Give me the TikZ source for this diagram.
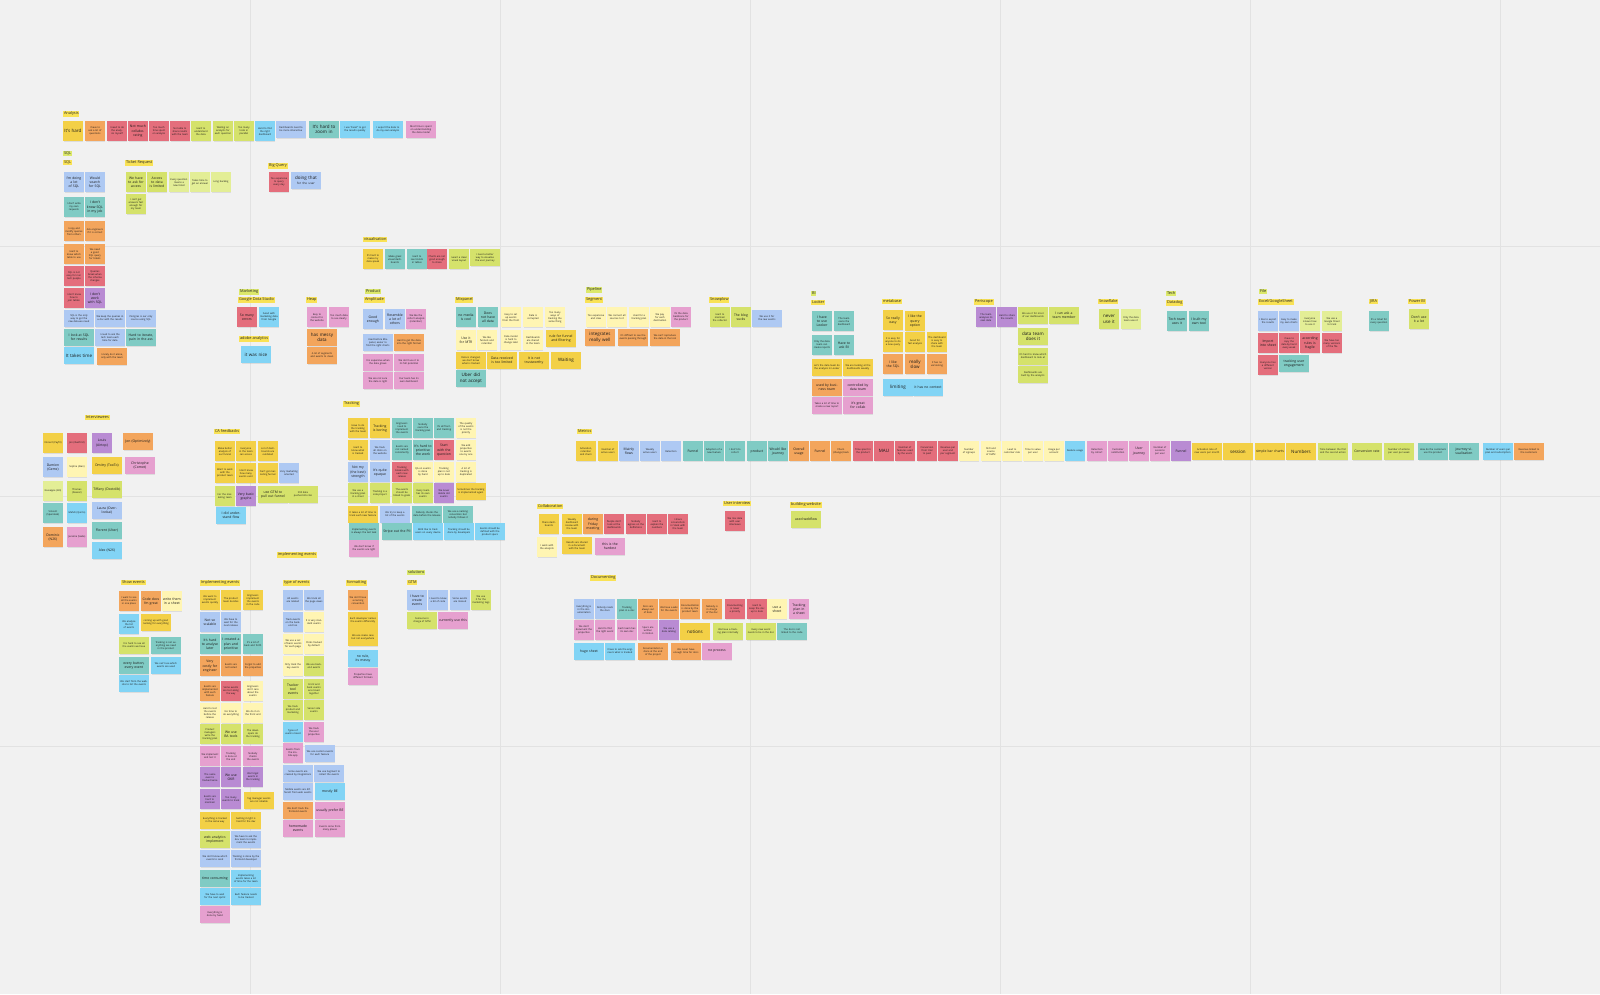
\documentclass[tikz,border=0pt]{standalone}
\usepackage{fontspec}
\setmainfont{Open Sans}
\usetikzlibrary{shadows}
\definecolor{bgc}{HTML}{F1F1F1}
\definecolor{gridc}{HTML}{E2E2E2}
\definecolor{cY}{HTML}{F3D046}
\definecolor{cO}{HTML}{F3A55C}
\definecolor{cR}{HTML}{E46E7C}
\definecolor{cL}{HTML}{D5E26B}
\definecolor{cB}{HTML}{AEC9F3}
\definecolor{cT}{HTML}{80CBC4}
\definecolor{cS}{HTML}{82D4F5}
\definecolor{cP}{HTML}{B98BD3}
\definecolor{cK}{HTML}{E6A0CF}
\definecolor{cPY}{HTML}{FFF5B3}
\definecolor{cPL}{HTML}{E3EE96}
\definecolor{labY}{HTML}{F9E255}
\definecolor{labG}{HTML}{DCE86B}
\newcounter{nn}
\tikzset{
 note/.style={anchor=north west, inner sep=0.5pt, align=center, text=black!90,
   drop shadow={shadow xshift=0.3pt, shadow yshift=-0.8pt, opacity=0.18}},
 sqn/.style={minimum width=19.5pt, minimum height=20pt, text width=17.5pt},
 wdn/.style={minimum width=29.5pt, minimum height=16.5pt, text width=28pt},
 tinyf/.style={font=\fontsize{2.45}{2.95}\selectfont},
 medf/.style={font=\fontsize{3.4}{4.1}\selectfont},
 bigf/.style={font=\fontsize{4.5}{5.3}\selectfont},
 lab/.style={anchor=north west, inner sep=0.8pt, font=\fontsize{3.9}{4.4}\selectfont, text=black!85}
}
\newcommand\nsq[4]{\stepcounter{nn}\node[note,sqn,tinyf,fill=#3] (n\arabic{nn}) at (#1,#2) {#4};}
\newcommand\nsqm[4]{\stepcounter{nn}\node[note,sqn,medf,fill=#3] (n\arabic{nn}) at (#1,#2) {#4};}
\newcommand\nsqb[4]{\stepcounter{nn}\node[note,sqn,bigf,fill=#3] (n\arabic{nn}) at (#1,#2) {#4};}
\newcommand\nwd[4]{\stepcounter{nn}\node[note,wdn,tinyf,fill=#3] (n\arabic{nn}) at (#1,#2) {#4};}
\newcommand\nwdm[4]{\stepcounter{nn}\node[note,wdn,medf,fill=#3] (n\arabic{nn}) at (#1,#2) {#4};}
\newcommand\nwdb[4]{\stepcounter{nn}\node[note,wdn,bigf,fill=#3] (n\arabic{nn}) at (#1,#2) {#4};}
\newcommand\lab[4]{\stepcounter{nn}\node[lab,fill=#3] (l\arabic{nn}) at (#1,#2) {#4};}
\begin{document}
\begin{tikzpicture}[x=1pt,y=-1pt]
\fill[bgc] (0,0) rectangle (1600,994);
\useasboundingbox (0,0) rectangle (1600,994);
\foreach \gx in {250,500,750,1000,1250,1500} \draw[gridc, line width=1pt] (\gx,0) -- (\gx,994);
\foreach \gy in {246,496,746} \draw[gridc, line width=1pt] (0,\gy) -- (1600,\gy);

% ---------------- Analysis
\lab{63}{111}{labY}{Analysis}
\nsqb{63}{121}{cY}{It's hard}
\nsq{85}{121}{cO}{I have to ask a lot of questions}
\nsq{107}{121}{cR}{I need to do the analysis myself}
\nsqm{128}{121}{cR}{Not much collabo\-rating}
\nsq{149}{121}{cR}{Too much time spent on analysis}
\nsq{170}{121}{cR}{Not able to share results with the team}
\nsq{191}{121}{cL}{Hard to understand the data}
\nsq{213}{121}{cL}{Waiting on analysts for each question}
\nsq{234}{121}{cL}{Too many tools in parallel}
\nsq{255}{121}{cS}{Hard to find the right dashboard}
\nwd{276}{121}{cB}{Dashboards need to be more interactive}
\nwdb{309}{121}{cT}{It's hard to zoom in}
\nwd{340}{121}{cS}{I use "Excel" to get the results quickly}
\nwd{373}{121}{cS}{I export the data to do my own analysis}
\nwd{406}{121}{cK}{Most time is spent on understanding the data model}

% ---------------- SQL
\lab{63}{151}{labG}{SQL}
\lab{63}{160}{labY}{SQL}
\nsqm{64}{172}{cB}{I'm doing a lot of SQL}
\nsqm{85}{172}{cB}{Would search for SQL}
\nsq{64}{197}{cT}{I don't write my own requests}
\nsqm{85}{197}{cT}{I don't know SQL in my job}
\nsq{64}{221}{cO}{I copy and modify queries from others}
\nsq{85}{221}{cO}{Ask engineers if it is correct}
\nsq{64}{244}{cO}{Hard to know which table to use}
\nsq{85}{244}{cO}{We need a good SQL query for tickets}
\nsq{64}{266}{cR}{SQL is not easy for non tech people}
\nsq{85}{266}{cR}{Queries break when the schema changes}
\nsq{64}{288}{cR}{I don't know how to join tables}
\nsqm{85}{288}{cP}{I don't work with SQL}
\nwd{64}{310}{cB}{SQL is the only way to get the raw data we need}
\nwd{95}{310}{cB}{We keep the queries in a doc with the results}
\nwd{126}{310}{cB}{Postgres is our only source using SQL}
\nwdm{64}{329}{cT}{I look at SQL for results}
\nwd{95}{329}{cB}{I need to ask the tech team each time for data}
\nwdm{126}{329}{cT}{Hard to iterate, pain in the ass}
\nwdb{64}{347}{cS}{It takes time}
\nwd{97}{348}{cO}{I rarely do it alone, only with the team}

% ---------------- Ticket Request
\lab{125}{160}{labY}{Ticket Request}
\nsqm{126}{172}{cL}{We have to ask for access}
\nsqm{147}{172}{cL}{Access to data is limited}
\nsq{169}{172}{cPL}{Every question means a new ticket}
\nsq{190}{172}{cPL}{Takes time to get an answer}
\nsq{211}{172}{cPL}{Long backlog}
\nsq{126}{194}{cL}{I can't get answers fast enough for my team}

% ---------------- Big Query
\lab{268}{163}{labY}{Big Query}
\nsq{269}{172}{cR}{Too expensive to query every day}
\nwdb{291}{172}{cB}{doing that {\fontsize{3}{3.6}\selectfont for the user}}

% ---------------- visualisation
\lab{363}{237}{labY}{visualisation}
\nsq{363}{249}{cY}{It's hard to make my data speak}
\nsq{385}{249}{cT}{Make great visual dashboards}
\nsq{407}{249}{cT}{Hard to see trends in tables}
\nsq{427}{249}{cR}{Charts are not good enough to share}
\nsq{449}{249}{cL}{I want a clean visual layout}
\nwd{470}{249}{cL}{I need a better way to visualise the user journey}

% ---------------- Marketing
\lab{239}{289}{labG}{Marketing}
\lab{238}{297}{labY}{Google Data Studio}
\nsqm{237}{307}{cR}{So many errors}
\nsq{259}{307}{cS}{Good with marketing data from Google}
\lab{239}{336}{labY}{adobe analytics}
\nwdb{241}{346}{cS}{it was nice}

% ---------------- Heap
\lab{306}{297}{labY}{Heap}
\nsq{307}{307}{cK}{Easy to connect to the website}
\nsq{329}{307}{cK}{Too much data to see clearly}
\nwdb{307}{329}{cO}{has messy data}
\nwd{307}{347}{cO}{A lot of segments and events to clean}

% ---------------- Product / Amplitude
\lab{365}{289}{labG}{Product}
\lab{364}{297}{labY}{Amplitude}
\nsqm{363}{309}{cB}{Good enough}
\nsqm{385}{309}{cB}{Resemble a lot of others}
\nsq{406}{309}{cK}{We like the cohort analysis (retention)}
\nwd{363}{334}{cB}{Used before Mixpanel, easier to find the right charts}
\nwd{394}{334}{cO}{Hard to get the data into the right format}
\nwd{363}{354}{cK}{It is expensive when the data grows}
\nwd{394}{354}{cK}{We don't use it to its full potential}
\nwd{363}{372}{cK}{We are not sure the data is right}
\nwd{394}{372}{cK}{Our team has its own dashboard}

% ---------------- Mixpanel
\lab{455}{297}{labY}{Mixpanel}
\nsqm{456}{307}{cT}{no media is cool}
\nsqm{478}{307}{cT}{Does not have all data}
\nsq{501}{307}{cPY}{Easy to set up events from the front}
\nsq{523}{307}{cPY}{Data is corrupted}
\nsq{545}{307}{cPY}{Too many ways of tracking the same thing}
\nsqm{456}{330}{cPY}{Use it for MTR}
\nsq{477}{330}{cPY}{We like funnels and retention}
\nsq{501}{330}{cPY}{Data model is hard to change later}
\nsq{523}{330}{cPY}{Dashboards are shared in the team}
\nwdm{546}{330}{cY}{rule for funnel and filtering}
\nwd{456}{352}{cY}{Data is changed, we don't know what is tracked}
\nwdm{487}{352}{cY}{Data received is too limited}
\nwdm{519}{352}{cY}{It is not trustworthy}
\nwdb{551}{352}{cY}{Waiting}
\nwdb{456}{370}{cT}{Uber did not accept}

% ---------------- Pipeline / Segment
\lab{586}{287}{labG}{Pipeline}
\lab{585}{297}{labY}{Segment}
\nsq{586}{307}{cPY}{Too expensive and slow}
\nsq{607}{307}{cPY}{We connect all sources to it}
\nsq{629}{307}{cPY}{Used for a tracking plan}
\nsq{650}{307}{cPY}{We pay for each destination}
\nsq{671}{307}{cK}{It's the data backbone for the product}
\nwdb{585}{329}{cO}{integrates really well}
\nwd{618}{329}{cO}{It's difficult to see the events passing through}
\nwd{650}{329}{cO}{We can't reproduce the data in the tool}

% ---------------- Snowplow
\lab{709}{297}{labY}{Snowplow}
\nsq{710}{307}{cL}{Hard to maintain the collector}
\nsqm{731}{307}{cL}{The blog sucks}
\nwd{752}{310}{cB}{We use it for the raw events}

% ---------------- BI / Looker
\lab{811}{291}{labG}{BI}
\lab{811}{300}{labY}{Looker}
\nsqm{812}{311}{cT}{I have to use Looker}
\nsq{834}{311}{cT}{The team owns the dashboard}
\nsq{812}{335}{cT}{Only the data team can create reports}
\nsqm{834}{335}{cT}{Have to ask BI}
\nwd{812}{359}{cY}{Let's the data team do the analysis in Looker}
\nwd{843}{359}{cY}{We are looking at the dashboards weekly}
\nwdm{812}{379}{cO}{used by business team}
\nwdm{843}{379}{cK}{controlled by data team}
\nwd{812}{397}{cK}{Takes a lot of time to create a new report}
\nwdm{843}{397}{cK}{it's great for collab}

% ---------------- metabase
\lab{882}{299}{labY}{metabase}
\nsqm{883}{310}{cY}{So really easy}
\nsqm{905}{311}{cY}{I like the query option}
\nsq{883}{332}{cY}{It is easy for anyone to do a new query}
\nsq{905}{332}{cY}{Good for fast analysis}
\nsq{927}{332}{cY}{The dashboard is easy to share with the team}
\nsqm{883}{354}{cO}{I like the SQL}
\nsqb{905}{354}{cO}{really slow}
\nsq{927}{354}{cO}{It has no versioning}
\nwdb{883}{379}{cS}{limiting}
\nwdm{913}{379}{cS}{it has no context}

% ---------------- Periscope
\lab{974}{299}{labY}{Periscope}
\nsq{976}{307}{cP}{The team analyses its own data}
\nsq{997}{307}{cP}{Hard to share the results}
\nwd{1018}{307}{cL}{We use it for most of our dashboards}
\nwdm{1049}{307}{cL}{I can ask a team member}
\nwdb{1018}{328}{cL}{data team does it}
\nwd{1018}{348}{cL}{It's hard to know which dashboard to look at}
\nwd{1018}{366}{cL}{Dashboards are built by the analysts}

% ---------------- Snowflake
\lab{1098}{299}{labY}{Snowflake}
\nsqb{1099}{309}{cL}{never use it}
\nsq{1121}{309}{cPL}{Only the data team uses it}

% ---------------- Tech / Datadog
\lab{1166}{291}{labG}{Tech}
\lab{1166}{300}{labY}{Datadog}
\nsqm{1167}{311}{cT}{Tech team uses it}
\nsqm{1189}{311}{cT}{I built my own tool}

% ---------------- File / Excel
\lab{1259}{289}{labG}{File}
\lab{1258}{299}{labY}{Excel/GoogleSheet}
\nsq{1258}{311}{cB}{I like to export the results}
\nsq{1279}{311}{cB}{Easy to make my own charts}
\nsq{1300}{311}{cPL}{Everyone knows how to use it}
\nsq{1322}{311}{cPL}{We use a Google Sheet to track}
\nsqm{1258}{333}{cR}{Import into sheet}
\nsq{1279}{333}{cR}{I have to copy the data by hand every week}
\nsqm{1300}{333}{cR}{according rules is fragile}
\nsq{1322}{333}{cR}{We have too many versions of the file}
\nsq{1258}{355}{cR}{Everyone has a different version}
\nwdm{1279}{355}{cT}{tracking user engagement}

% ---------------- JIRA / Power BI
\lab{1369}{299}{labY}{JIRA}
\nsq{1369}{311}{cT}{It's a ticket for every question}
\lab{1408}{299}{labY}{Power BI}
\nsqm{1409}{309}{cL}{Don't use it a lot}

% ---------------- Interviewees
\lab{85}{415}{labY}{Interviewees}
\nsq{43}{433}{cY}{Vincent (Payfit)}
\nsq{67}{433}{cR}{Jon (Ibanfirst)}
\nsqm{92}{433}{cP}{Louis (Airtop)}
\nwdm{123}{433}{cO}{Jon (Optimizely)}
\nsqm{43}{457}{cB}{Damien (Gemz)}
\nsq{67}{457}{cPY}{Sophie (Alan)}
\nwdm{92}{457}{cY}{Dmitry (TooTo)}
\nwdm{125}{457}{cK}{Christophe (Comet)}
\nsq{43}{481}{cPL}{Giuseppe (Kili)}
\nsq{67}{481}{cL}{Thomas (Deezer)}
\nwdm{92}{481}{cL}{Tiffany (Doctolib)}
\nsq{43}{503}{cT}{Vincent (Spendesk)}
\nsq{67}{503}{cS}{Mehdi (Qonto)}
\nwdm{92}{502}{cB}{Laura (Overlookai)}
\nsqm{43}{527}{cO}{Dominic (N26)}
\nsq{67}{527}{cK}{Jeremie (Swile)}
\nwdm{92}{522}{cT}{Florent (Uber)}
\nwdm{92}{542}{cS}{Alex (N26)}

% ---------------- CA feedbacks
\lab{214}{429}{labY}{CA feedbacks}
\nsq{215}{441}{cY}{Make better analysis of our funnel}
\nsq{236}{441}{cY}{Everyone in the team can access}
\nsq{258}{441}{cY}{Lot of dashboards are outdated}
\nsq{215}{463}{cY}{Want to work with the product team}
\nsq{236}{463}{cY}{I don't know how many events exist}
\nsq{258}{463}{cY}{Can't get marketing funnel}
\nsq{279}{463}{cB}{Very marketing oriented}
\nsq{215}{486}{cL}{For the marketing team}
\nsqm{236}{486}{cP}{Very basic graphs}
\nwdm{258}{486}{cL}{use GTM to pull out funnel}
\nwd{288}{486}{cL}{Still data pushed into GA}
\nwdm{216}{507}{cS}{I did understand flow}

% ---------------- Tracking
\lab{343}{401}{labY}{Tracking}
\nsq{348}{418}{cY}{Have to do the tracking with the team}
\nsqm{370}{418}{cY}{Tracking is boring}
\nsq{392}{418}{cT}{Engineers need to implement the events}
\nsq{413}{418}{cT}{Nobody owns the tracking plan}
\nsq{434}{418}{cT}{It's all front-end tracking}
\nsq{456}{418}{cPY}{The quality of the events is not the priority}
\nsq{348}{440}{cY}{Hard to know what is tracked}
\nsq{370}{440}{cB}{We track all clicks on the website}
\nsq{392}{440}{cT}{Events are not named consistently}
\nsqm{413}{440}{cT}{It's hard to prioritise the work}
\nsqm{434}{440}{cR}{Start with the question}
\nsq{456}{440}{cPY}{We add properties to events one by one}
\nsqm{348}{462}{cB}{Not my (the best) strength}
\nsqm{370}{462}{cB}{It's quite opaque}
\nsq{392}{462}{cR}{Tracking breaks with each new release}
\nsq{413}{462}{cPY}{QA on events is done by hand}
\nsq{434}{462}{cPY}{Tracking plan is not up to date}
\nsq{456}{462}{cPY}{A lot of tracking is duplicated}
\nsq{348}{483}{cL}{We use a tracking plan in a sheet}
\nsq{370}{483}{cL}{Tracking is a side project}
\nsq{392}{483}{cL}{The events should be linked to goals}
\nsq{413}{483}{cL}{Every team has its own events}
\nsq{434}{483}{cP}{We never delete old events}
\nwd{456}{483}{cY}{Sometimes the tracking is implemented again}
\nwd{348}{506}{cY}{It takes a lot of time to track each new feature}
\nwd{380}{506}{cB}{We try to keep a list of the events}
\nwd{412}{506}{cT}{Nobody checks the data before the release}
\nwd{443}{506}{cT}{We use a naming convention but nobody follows it}
\nwd{349}{523}{cT}{Implementing events is always the last task}
\nwdm{382}{523}{cT}{Stripe out the PII}
\nwd{413}{523}{cS}{We'd like to track users on every device}
\nwd{444}{523}{cS}{Tracking should be done by developers}
\nwd{475}{523}{cS}{Events should be defined with the product specs}
\nwd{349}{540}{cK}{We don't know if the events are right}
\lab{277}{552}{labY}{implementing events}

% ---------------- Metrics
\lab{577}{429}{labY}{Metrics}
\nsq{576}{441}{cY}{Activation, retention and churn}
\nsq{598}{441}{cY}{Number of active users}
\nsqm{619}{441}{cB}{Mainly flows}
\nsq{640}{441}{cB}{Weekly active users}
\nsq{661}{441}{cB}{Retention}
\nsqm{683}{441}{cT}{Funnel}
\nsq{704}{441}{cT}{Adoption of a new feature}
\nsq{725}{441}{cT}{I don't do cohort}
\nsqm{747}{441}{cT}{product}
\nsqm{768}{441}{cT}{Would like journey}
\nsqm{789}{441}{cO}{Overall usage}
\nsqm{810}{441}{cO}{Funnel}
\nsq{831}{441}{cO}{Churn (change) back}
\nsq{853}{441}{cR}{Time spent in the product}
\nsqb{874}{441}{cR}{MAU}
\nsq{895}{441}{cR}{Number of features used by the users}
\nsq{917}{441}{cR}{Conversion from trial to paid}
\nsq{938}{441}{cR}{Revenue per user and per segment}
\nsq{959}{441}{cPY}{Number of signups}
\nsq{981}{441}{cPY}{SEO and source of traffic}
\nsq{1002}{441}{cPY}{Lead to customer rate}
\nsq{1023}{441}{cPY}{Time to value per user}
\nsq{1044}{441}{cPY}{Usage per account}
\nsq{1065}{441}{cS}{Feature usage}
\nsq{1087}{441}{cK}{Retention by cohort}
\nsq{1108}{441}{cK}{Customer satisfaction}
\nsqm{1129}{441}{cK}{User journey}
\nsq{1150}{441}{cK}{Number of sessions per user}
\nsqm{1171}{441}{cP}{Funnel}
\nwd{1192}{443}{cY}{Activation rate of new users per month}
\nwdb{1223}{443}{cY}{session}
\nwdm{1255}{443}{cY}{simple bar charts}
\nwdb{1286}{443}{cY}{Numbers}
\nwd{1318}{443}{cL}{Time between the first and the second action}
\nwdm{1352}{443}{cL}{Conversion rate}
\nwd{1384}{443}{cL}{Number of actions per user per week}
\nwd{1418}{443}{cT}{How do the customers use the product}
\nwdm{1449}{443}{cT}{journey visualisation}
\nwd{1483}{443}{cS}{Number of users per plan and subscription}
\nwd{1514}{443}{cO}{Revenue linked to the customers}

% ---------------- Collaboration
\lab{537}{504}{labY}{Collaboration}
\nsq{539}{514}{cY}{Share dashboards}
\nsq{562}{514}{cY}{Weekly dashboard review with the team}
\nsqm{583}{514}{cO}{during Friday meeting}
\nsq{604}{514}{cR}{People don't look at the dashboards}
\nsq{626}{514}{cR}{Nobody agrees on the definitions}
\nsq{647}{514}{cR}{Hard to explain the numbers}
\nsq{668}{514}{cR}{I share screenshots in Slack with the team}
\nsq{537}{537}{cPY}{I work with the analysts}
\nwd{562}{537}{cY}{Results are shared in a document with the team}
\nwdm{595}{538}{cK}{this is the hardest}
\lab{723}{501}{labY}{User interview}
\nsq{725}{511}{cR}{We mix data with user interviews}
\lab{790}{502}{labY}{building website}
\nwdm{791}{511}{cL}{used webflow}

% ---------------- Documenting
\lab{590}{575}{labY}{Documenting}
\nsq{574}{599}{cB}{Everything is in the documentation}
\nsq{595}{599}{cB}{Nobody reads the docs}
\nsq{617}{599}{cT}{Tracking plan in a doc}
\nsq{638}{599}{cO}{Docs are always out of date}
\nsq{659}{599}{cO}{We have a wiki for the events}
\nsq{680}{599}{cO}{Documentation is done by the product team}
\nsq{702}{599}{cO}{Nobody is in charge of the doc}
\nsq{725}{599}{cR}{Documenting is never a priority}
\nsq{747}{599}{cR}{Hard to keep the doc up to date}
\nsqm{767}{599}{cPY}{use a sheet}
\nsqm{789}{599}{cK}{Tracking plan in a sheet}
\nsq{574}{620}{cK}{We don't document the properties}
\nsq{595}{620}{cK}{Hard to find the right event}
\nsq{617}{620}{cK}{Each team has its own doc}
\nsq{638}{620}{cK}{Specs are written in Notion}
\nsq{659}{620}{cP}{We use a data catalog}
\nwdb{680}{623}{cY}{notions}
\nwd{713}{623}{cL}{We have a tracking plan internally}
\nwd{746}{623}{cL}{Every new event needs to be in the doc}
\nwd{777}{623}{cT}{The doc is not linked to the code}
\nwdm{574}{643}{cS}{huge sheet}
\nwd{605}{643}{cS}{I have to ask the engineers what is tracked}
\nwd{638}{643}{cO}{Documentation is done at the end of the project}
\nwd{671}{643}{cO}{We never have enough time for docs}
\nwdm{702}{643}{cK}{no process}

% ---------------- Show events
\lab{121}{580}{labY}{Show events}
\nsq{119}{591}{cO}{I want to see all the events in one place}
\nsqm{141}{591}{cO}{Code docs I'm great}
\nsqm{162}{591}{cPY}{write them in a sheet}
\nsq{119}{614}{cS}{We analyse the list of events}
\nwd{141}{614}{cY}{coming up with good naming for everything}
\nwd{119}{637}{cL}{It is hard to see all the events we have}
\nwd{151}{637}{cT}{Tracking is not everything we need in the product}
\nwdm{119}{657}{cT}{every button, every event}
\nwd{151}{657}{cS}{We can't see which events are used}
\nwd{119}{675}{cS}{We start from the website to list the events}

% ---------------- Implementing events
\lab{200}{580}{labY}{Implementing events}
\nsq{200}{590}{cY}{We want to implement events quickly}
\nsq{221}{590}{cY}{The product team decides}
\nsq{243}{590}{cY}{Engineers implement the events in the code}
\nsqm{200}{612}{cB}{Not so scalable}
\nsq{221}{612}{cB}{We have to wait for the next release}
\nsqm{200}{634}{cT}{It's hard to analyse later}
\nsqm{221}{634}{cT}{I created a plan and prioritise}
\nsq{243}{634}{cT}{It's a lot of back and forth}
\nsqm{200}{656}{cO}{Very costly for engineer}
\nsq{221}{656}{cO}{Events are not tested}
\nsq{243}{656}{cO}{Forgot to add the properties}
\nsq{200}{681}{cO}{Events are implemented with each feature}
\nsq{221}{681}{cR}{Some events are lost along the way}
\nsq{243}{681}{cPY}{Engineers don't care about the events}
\nsq{200}{703}{cPY}{Hard to test the events before the release}
\nsq{221}{703}{cPY}{No time to do everything}
\nsq{243}{703}{cPY}{We do it on the front end}
\nsq{200}{724}{cL}{Product managers write the tracking plan}
\nsqm{221}{724}{cL}{We use BA tools}
\nsq{243}{724}{cL}{The developers do the tracking}
\nsq{200}{746}{cK}{We implement and test it}
\nsq{221}{746}{cK}{Tracking is done at the end}
\nsq{243}{746}{cK}{Nobody checks the events}
\nsq{200}{767}{cP}{The same event is tracked twice}
\nsqm{221}{767}{cP}{We use OKR}
\nsq{243}{767}{cP}{We forget events in the tracking}
\nsq{200}{789}{cP}{Events are hard to maintain}
\nsq{221}{789}{cP}{Too many events to track}
\nwd{244}{792}{cY}{Tag manager events are not reliable}
\nwd{200}{812}{cY}{Everything is tracked in the same way}
\nwd{231}{812}{cY}{Getting it right is hard for the dev}
\nwdm{200}{831}{cL}{web analytics implement}
\nwd{231}{831}{cB}{We have to ask the dev team to implement the events}
\nwd{200}{850}{cB}{We don't know which events to send}
\nwd{231}{850}{cB}{Tracking is done by the frontend developer}
\nwdm{200}{870}{cT}{time consuming}
\nwd{231}{870}{cS}{Implementing events takes a lot of time for the team}
\nwd{200}{888}{cS}{We have to wait for the next sprint}
\nwd{231}{888}{cS}{Each feature needs to be tracked}
\nwd{200}{906}{cK}{Everything is done by hand}

% ---------------- type of events
\lab{283}{580}{labY}{type of events}
\nsq{283}{590}{cB}{All events are related}
\nsq{304}{590}{cB}{We track all the page views}
\nsq{283}{612}{cB}{Track events on the backend too}
\nsq{304}{612}{cPY}{It is very standard events}
\nsq{283}{634}{cPY}{We use a set of basic events for each page}
\nsq{304}{634}{cPY}{Clicks tracked by default}
\nsq{283}{656}{cPY}{Only track the key events}
\nsq{304}{656}{cL}{We use backend events}
\nsqm{283}{679}{cL}{Tracker tool events}
\nsq{304}{679}{cL}{Front and back events are mixed together}
\nsq{283}{700}{cL}{We track product and marketing}
\nsq{304}{700}{cL}{Server side events}
\nsq{283}{722}{cS}{Types of events mixed}
\nsq{304}{722}{cK}{We track the user properties}
\nsq{283}{743}{cK}{Events from the mobile app}
\nwd{305}{745}{cB}{We use custom events for each feature}
\nwd{283}{765}{cB}{Some events are created by integrations}
\nwd{314}{765}{cB}{We use Segment to collect the events}
\nwd{283}{783}{cB}{Mobile events are different from web events}
\nwdm{315}{783}{cS}{mostly BE}
\nwd{283}{802}{cO}{We don't track the frontend events}
\nwdm{315}{802}{cK}{usually prefer BE}
\nwdm{283}{820}{cK}{homemade events}
\nwd{315}{820}{cK}{Events come from many places}

% ---------------- formatting
\lab{346}{580}{labY}{formatting}
\nsq{348}{590}{cO}{We don't have a naming convention}
\nwd{348}{612}{cY}{Each developer names the events differently}
\nwd{348}{629}{cY}{We use snake case but not everywhere}
\nwdm{348}{650}{cS}{no rule, its messy}
\nwd{348}{668}{cK}{Properties have different formats}

% ---------------- solutions / GTM
\lab{407}{570}{labG}{solutions}
\lab{407}{580}{labY}{GTM}
\nsqm{407}{590}{cB}{I have to create events}
\nsq{428}{590}{cB}{I need to know a bit of code}
\nsq{450}{590}{cB}{Some events are missed}
\nsq{471}{590}{cL}{We use it for the marketing tags}
\nwd{407}{612}{cL}{Someone in charge of GTM}
\nwdm{438}{612}{cK}{currently use this}

\end{tikzpicture}
\end{document}
